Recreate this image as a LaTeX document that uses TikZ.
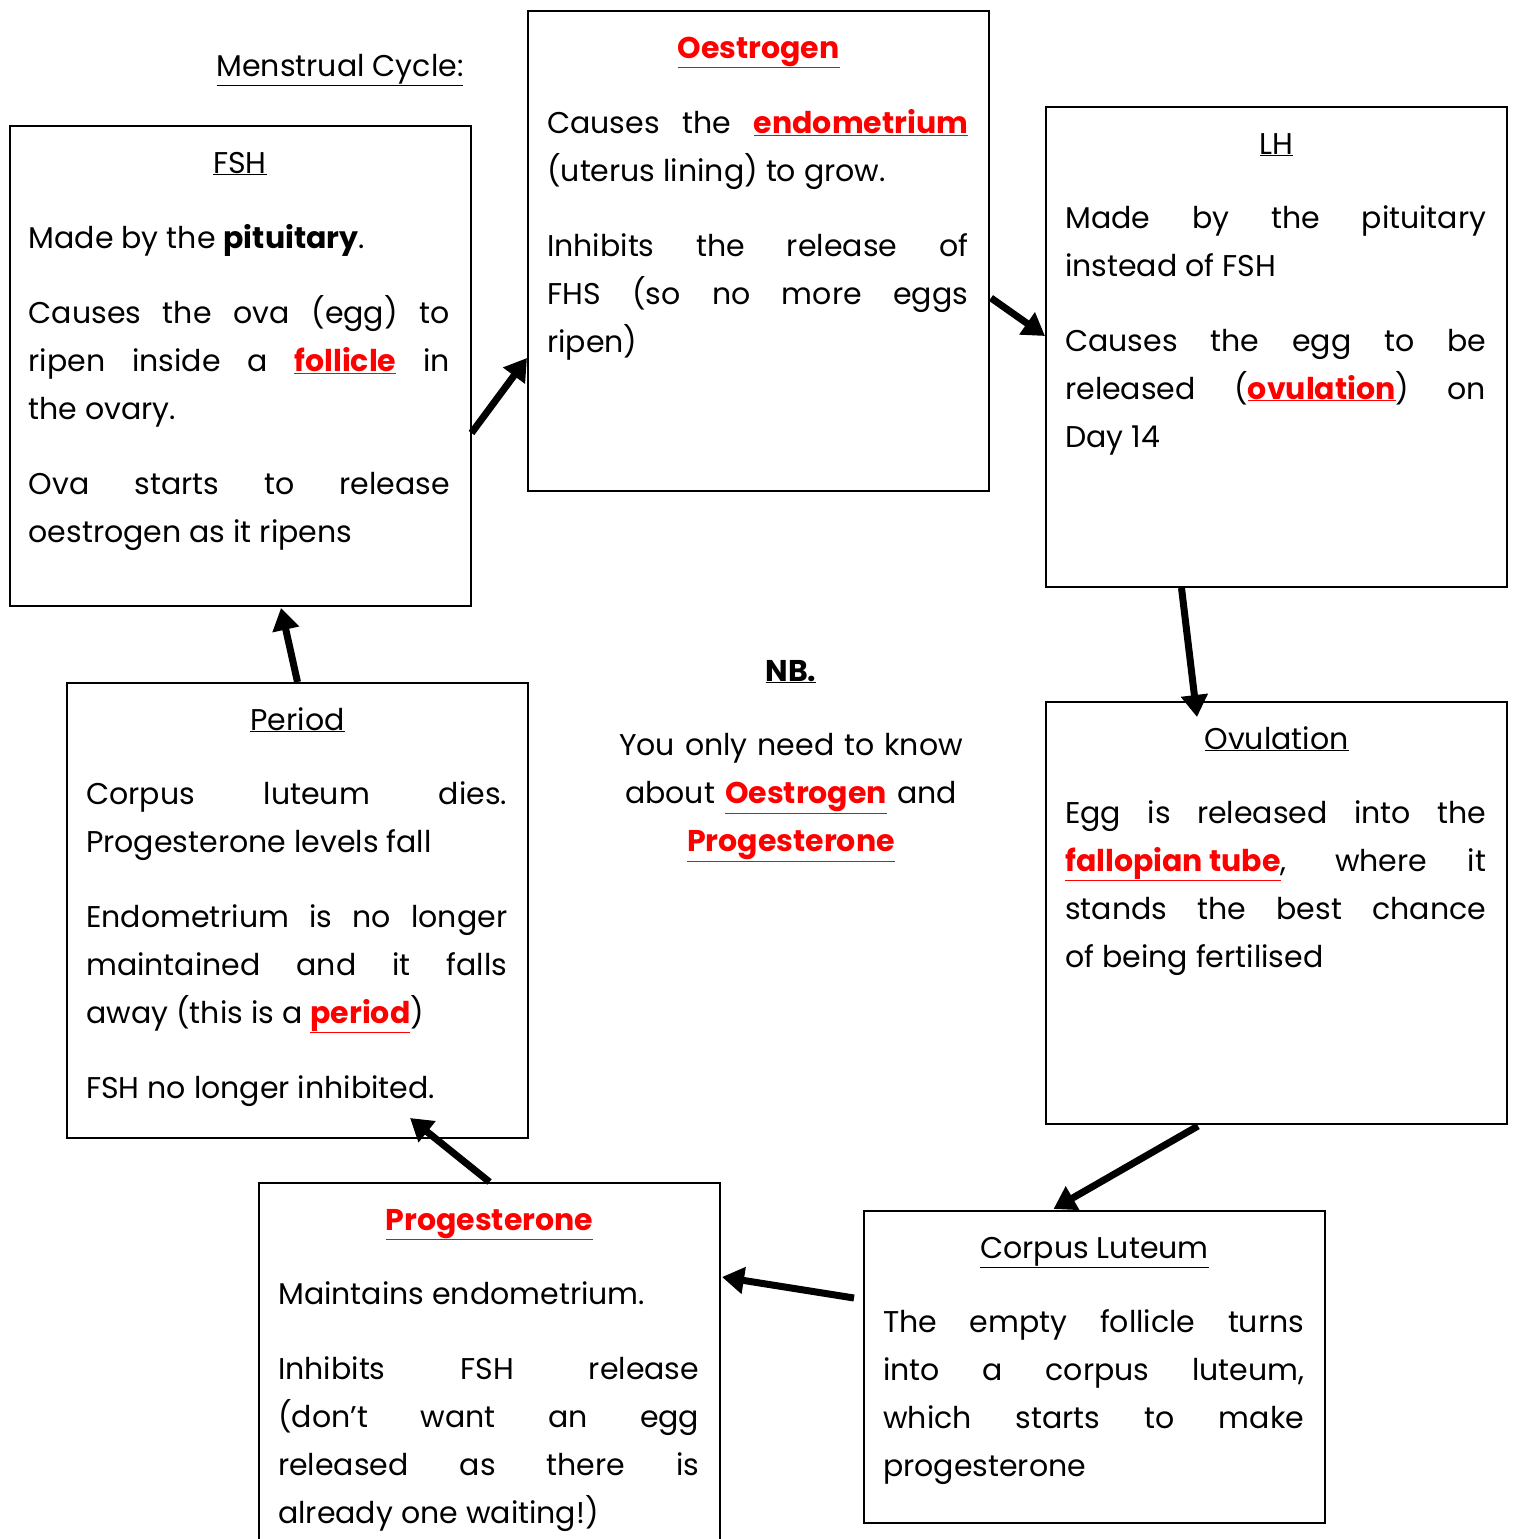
\documentclass[tikz,border=0pt]{standalone}
\usepackage{fontspec}
\setmainfont{Poppins}
\usetikzlibrary{arrows.meta,calc}

\newcommand{\kw}[1]{\textcolor{red}{\bfseries\underline{#1}}}
\newcommand{\gap}{\par\vspace{27pt}}

\tikzset{
  box/.style={draw, line width=2pt, minimum width=461pt, inner sep=0pt},
  ttl/.style={font=\fontsize{30}{48}\selectfont, anchor=base},
  body/.style={font=\fontsize{30}{48}\selectfont, text width=421pt, align=justify,
    anchor=north west, inner sep=0pt},
  flow/.style={line width=7pt, -{Triangle[length=22pt,width=26pt]}}
}

\begin{document}
\begin{tikzpicture}[x=1pt, y=-1pt]
  \useasboundingbox (0,0) rectangle (1517,1539);
  \tolerance=10000 \hyphenpenalty=10000

  % boxes
  \node[box, minimum height=480pt] (fsh) at (240,366) {};
  \node[box, minimum height=480pt] (oes) at (758.5,251) {};
  \node[box, minimum height=480pt] (lh)  at (1276.5,347) {};
  \node[box, minimum height=422pt] (ovu) at (1276.5,913) {};
  \node[box, minimum height=312pt] (cor) at (1094.5,1367) {};
  \node[box, minimum height=362pt] (pro) at (489.5,1364) {};
  \node[box, minimum height=455pt] (per) at (297.5,910.5) {};

  % headings
  \node[ttl] (title) at (340,76) {\underline{Menstrual Cycle:}};
  \node[ttl] (fshttl) at ($(fsh.north)+(0,48)$) {\underline{FSH}};
  \node[ttl] (oesttl) at ($(oes.north)+(0,48)$) {\kw{Oestrogen}};
  \node[ttl] (lhttl)  at ($(lh.north)+(0,48)$)  {\underline{LH}};
  \node[ttl] (ovuttl) at ($(ovu.north)+(0,48)$) {\underline{Ovulation}};
  \node[ttl] (corttl) at ($(cor.north)+(0,48)$) {\underline{Corpus Luteum}};
  \node[ttl] (prottl) at ($(pro.north)+(0,48)$) {\kw{Progesterone}};
  \node[ttl] (perttl) at ($(per.north)+(0,48)$) {\underline{Period}};

  % box texts
  \node[body] (fshtxt) at ($(fsh.north west)+(20,99)$) {Made by the \textbf{pituitary}.\gap
    Causes the ova (egg) to\linebreak ripen inside a \kw{follicle} in\linebreak the ovary.\gap
    Ova starts to release\linebreak oestrogen as it ripens};
  \node[body] (oestxt) at ($(oes.north west)+(20,99)$) {Causes the \kw{endometrium}\linebreak
    (uterus lining) to grow.\gap
    Inhibits the release of\linebreak FHS (so no more eggs\linebreak ripen)};
  \node[body] (lhtxt) at ($(lh.north west)+(20,99)$) {Made by the pituitary\linebreak
    instead of FSH\gap
    Causes the egg to be\linebreak released (\kw{ovulation}) on\linebreak Day 14};
  \node[body] (ovutxt) at ($(ovu.north west)+(20,99)$) {Egg is released into the\linebreak
    \kw{fallopian tube}, where it\linebreak stands the best chance\linebreak of being fertilised};
  \node[body] (cortxt) at ($(cor.north west)+(20,99)$) {The empty follicle turns\linebreak
    into a corpus luteum,\linebreak which starts to make\linebreak progesterone};
  \node[body] (protxt) at ($(pro.north west)+(20,99)$) {Maintains endometrium.\gap
    Inhibits FSH release\linebreak (don’t want an egg\linebreak released as there is\linebreak
    already one waiting!)};
  \node[body] (pertxt) at ($(per.north west)+(20,99)$) {Corpus luteum dies.\linebreak
    Progesterone levels fall\gap
    Endometrium is no longer\linebreak maintained and it falls\linebreak
    away (this is a \kw{period})\gap
    FSH no longer inhibited.};

  % NB note
  \node[ttl] (nb) at (791,681) {\textbf{\underline{NB.}}};
  \node[body, text width=400pt, align=center, anchor=north] (nbtxt) at (791,733)
    {You only need to know\\ about \kw{Oestrogen} and\\ \kw{Progesterone}};

  % cycle arrows
  \draw[flow] ($(fsh.east)+(0,67)$) -- ($(oes.west)+(0,107)$);
  \draw[flow] ($(oes.east)+(1,47)$) -- ($(lh.west)+(0,-11)$);
  \draw[flow] ($(lh.south)+(-95,0)$) -- ($(ovu.north)+(-79.5,16)$);
  \draw[flow] ($(ovu.south)+(-78.5,1)$) -- ($(cor.north)+(-41,-1)$);
  \draw[flow] ($(cor.west)+(-9,-69)$) -- ($(pro.north east)+(1,95)$);
  \draw[flow] (pro.north) -- ($(per.south)+(112.5,-21)$);
  \draw[flow] (per.north) -- ($(fsh.south)+(41,1)$);
\end{tikzpicture}
\end{document}
